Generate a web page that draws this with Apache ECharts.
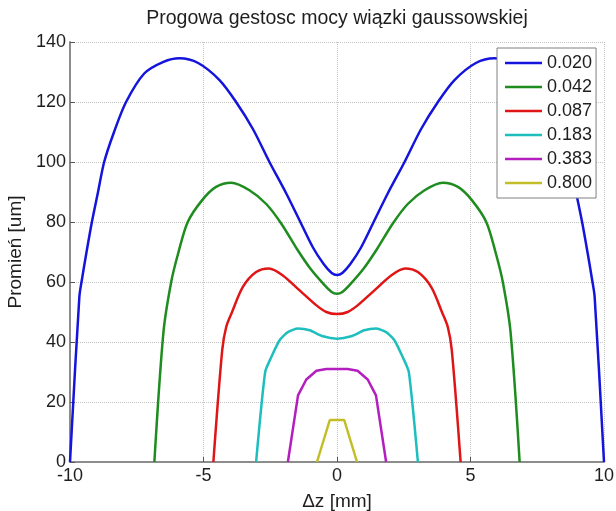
<!DOCTYPE html>
<html>
<head>
    <meta charset="UTF-8">
    <title>Progowa gestosc mocy wiązki gaussowskiej</title>
    <script src="https://cdn.jsdelivr.net/npm/echarts@6/dist/echarts.min.js"></script>
    <style>
        html, body { margin: 0; padding: 0; background: #fff; }
        #main { width: 616px; height: 511px; }
    </style>
</head>
<body>
<div id="main"></div>
<script>
    // progi gestosci mocy (legenda)
    var levels = ['0.020', '0.042', '0.087', '0.183', '0.383', '0.800'];
    var colors = ['#1414dc', '#1e8c1e', '#e01616', '#1ebebe', '#b41ebe', '#c3be28'];
    var smoothness = [0.3, 0.3, 0.3, 0.2, 0, 0];

    var xTicks = [-10, -5, 0, 5, 10];
    var yTicks = [0, 20, 40, 60, 80, 100, 120, 140];

    // odczytane punkty [dz, promien]
    var r020 = [[-10, 0], [-9.65, 55], [-9.55, 61], [-9.4, 69], [-9.18, 80], [-8.95, 90], [-8.72, 100],
        [-8.35, 110], [-7.9, 120], [-7.22, 129.5], [-6.5, 133.4], [-5.9, 134.6], [-5.2, 133],
        [-4.4, 127.3], [-3.78, 120], [-3.15, 111], [-2.53, 100], [-1.9, 89.5], [-1.4, 80.5],
        [-0.9, 71.5], [-0.5, 66], [-0.2, 63], [0, 62.3],
        [0.2, 63], [0.5, 66], [0.9, 71.5], [1.4, 80.5], [1.9, 89.5], [2.53, 100], [3.15, 111],
        [3.78, 120], [4.4, 127.3], [5.2, 133], [5.9, 134.6], [6.5, 133.4], [7.22, 129.5],
        [7.9, 120], [8.35, 110], [8.72, 100], [8.95, 90], [9.18, 80], [9.4, 69], [9.55, 61],
        [9.65, 55], [10, 0]];
    var r042 = [[-6.84, 0], [-6.5, 43.3], [-6.21, 60], [-5.95, 69.5], [-5.59, 80], [-5.05, 87.3],
        [-4.53, 91.7], [-3.96, 93.1], [-3.28, 90.6], [-2.65, 86], [-2.09, 79.5], [-1.5, 71],
        [-1.0, 64.5], [-0.5, 59.3], [-0.2, 56.7], [0, 56.1],
        [0.2, 56.7], [0.5, 59.3], [1.0, 64.5], [1.5, 71], [2.09, 79.5], [2.65, 86], [3.28, 90.6],
        [3.96, 93.1], [4.53, 91.7], [5.05, 87.3], [5.59, 80], [5.95, 69.5], [6.21, 60],
        [6.5, 43.3], [6.84, 0]];
    var r087 = [[-4.63, 0], [-4.3, 37.2], [-4.15, 45], [-3.93, 50], [-3.53, 58.3], [-3.03, 63.3],
        [-2.55, 64.5], [-2.03, 62.2], [-1.4, 57.2], [-0.77, 52.2], [-0.4, 50], [0, 49.3],
        [0.4, 50], [0.77, 52.2], [1.4, 57.2], [2.03, 62.2], [2.55, 64.5], [3.03, 63.3],
        [3.53, 58.3], [3.93, 50], [4.15, 45], [4.3, 37.2], [4.63, 0]];
    var r183 = [[-3.03, 0], [-2.69, 30], [-2.46, 35], [-2.15, 40.6], [-1.84, 43.3], [-1.46, 44.5],
        [-1.02, 43.9], [-0.53, 41.9], [0, 41.1],
        [0.53, 41.9], [1.02, 43.9], [1.46, 44.5], [1.84, 43.3], [2.15, 40.6], [2.46, 35],
        [2.69, 30], [3.03, 0]];
    var r383 = [[-1.84, 0], [-1.46, 22.2], [-1.15, 27.5], [-0.77, 30.4], [-0.4, 31], [0, 31],
        [0.4, 31], [0.77, 30.4], [1.15, 27.5], [1.46, 22.2], [1.84, 0]];
    var r800 = [[-0.75, 0], [-0.27, 14], [0, 14], [0.27, 14], [0.75, 0]];

    var curves = [r020, r042, r087, r183, r383, r800];

    var myChart = echarts.init(document.getElementById('main'));

    var series = [];
    for (var i = 0; i < curves.length; i++) {
        series.push({
            name: levels[i],
            type: 'line',
            data: curves[i],
            symbol: 'none',
            smooth: smoothness[i],
            clip: true,
            lineStyle: { color: colors[i], width: 2.5 },
            itemStyle: { color: colors[i] }
        });
    }

    var txt = '#1e1e1e';
    var font = 'Liberation Sans';

    var option = {
        animation: false,
        backgroundColor: '#fff',
        textStyle: { fontFamily: font },
        title: {
            text: 'Progowa gestosc mocy wiązki gaussowskiej',
            left: 337,
            top: 9,
            padding: 0,
            textAlign: 'center',
            textStyle: { fontFamily: font, fontSize: 19.5, fontWeight: 'normal', color: txt }
        },
        grid: { left: 70, right: 12, top: 42, bottom: 49, containLabel: false, outerBoundsMode: 'none' },
        legend: {
            orient: 'vertical',
            left: 497,
            top: 48,
            padding: [6, 4, 6, 8],
            itemWidth: 37,
            itemHeight: 2.5,
            itemGap: 6,
            icon: 'rect',
            backgroundColor: '#fff',
            borderColor: '#808080',
            borderWidth: 1,
            data: levels,
            textStyle: { fontFamily: font, fontSize: 18, color: txt, lineHeight: 18 }
        },
        xAxis: {
            type: 'value',
            min: xTicks[0],
            max: xTicks[xTicks.length - 1],
            interval: 5,
            name: 'Δz [mm]',
            nameLocation: 'middle',
            nameGap: 30,
            nameTextStyle: { fontFamily: font, fontSize: 19, color: txt },
            axisLine: { onZero: false, lineStyle: { color: '#8c8c8c', width: 2 } },
            axisTick: { inside: true, length: 5, lineStyle: { color: '#555' } },
            axisLabel: { fontSize: 18, color: txt, margin: 5 },
            splitLine: { show: true, lineStyle: { color: '#c4c4c4', type: 'dotted', width: 1 } }
        },
        yAxis: {
            type: 'value',
            min: yTicks[0],
            max: yTicks[yTicks.length - 1],
            interval: 20,
            name: 'Promień [um]',
            nameLocation: 'middle',
            nameGap: 44,
            nameTextStyle: { fontFamily: font, fontSize: 19, color: txt },
            axisLine: { show: true, onZero: false, lineStyle: { color: '#8c8c8c', width: 2 } },
            axisTick: { show: true, inside: true, length: 5, lineStyle: { color: '#555' } },
            axisLabel: { fontSize: 18, color: txt, margin: 4 },
            splitLine: { show: true, lineStyle: { color: '#c4c4c4', type: 'dotted', width: 1 } }
        },
        series: series
    };

    myChart.setOption(option);
</script>
</body>
</html>
